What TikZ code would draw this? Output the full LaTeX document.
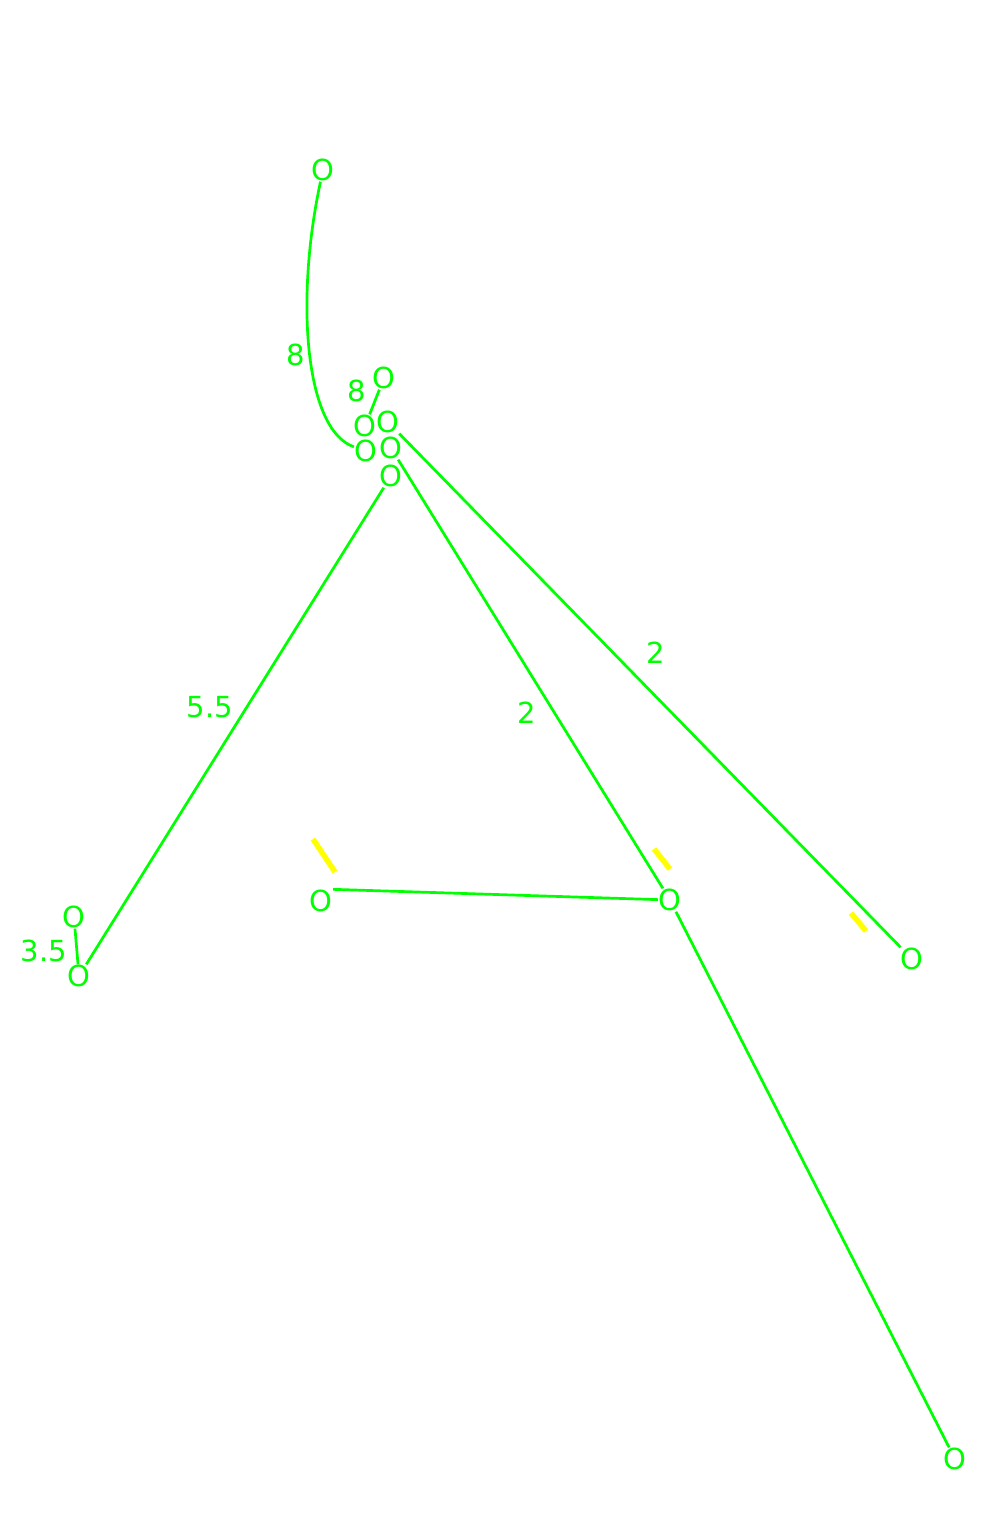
\documentclass[tikz,border=0pt]{standalone}
\usepackage{fontspec}
\setmainfont{DejaVu Sans}
\definecolor{lgreen}{HTML}{00FF00}
\definecolor{lyellow}{HTML}{FFFF00}
\begin{document}
\begin{tikzpicture}[x=1pt,y=-1pt,
  vert/.style={text=lgreen,font=\fontsize{29}{29}\selectfont,inner sep=0.5pt},
  elbl/.style={text=lgreen,font=\fontsize{29}{29}\selectfont,inner sep=0pt},
  edgeline/.style={draw=lgreen,line width=2.7pt},
  ymark/.style={draw=lyellow,line width=5.5pt}]
\useasboundingbox[fill=white] (0,0) rectangle (1000,1514);
\node[vert] (A) at (323,170) {O};
\node[vert] (B) at (384,378) {O};
\node[vert] (C) at (365,426) {O};
\node[vert] (D) at (388,422) {O};
\node[vert] (E) at (366,451) {O};
\node[vert] (F) at (391,448) {O};
\node[vert] (G) at (391,476) {O};
\node[vert] (H) at (74,917) {O};
\node[vert] (I) at (79,976) {O};
\node[vert] (J) at (321,901) {O};
\node[vert] (K) at (670,900) {O};
\node[vert] (L) at (912,959) {O};
\node[vert] (M) at (955,1459) {O};
\draw[edgeline] (A) .. controls (295,300) and (305,430) .. (E);
\draw[edgeline] (B) -- (C);
\draw[edgeline] (D) -- (L);
\draw[edgeline] (F) -- (K);
\draw[edgeline] (K) -- (M);
\draw[edgeline] (G) -- (I);
\draw[edgeline] (H) -- (I);
\draw[edgeline] (J.north east) -- (K);
\node[elbl] (l1) at (296,355) {8};
\node[elbl] (l2) at (357,391) {8};
\node[elbl] (l3) at (656,653) {2};
\node[elbl] (l4) at (527,713) {2};
\node[elbl] (l5) at (210,707) {5.5};
\node[elbl] (l6) at (44,951) {3.5};
\coordinate (y1a) at (313,839); \coordinate (y1b) at (335,872);
\coordinate (y2a) at (654,849); \coordinate (y2b) at (670,869);
\coordinate (y3a) at (851,913); \coordinate (y3b) at (866,931);
\draw[ymark] (y1a) -- (y1b);
\draw[ymark] (y2a) -- (y2b);
\draw[ymark] (y3a) -- (y3b);
\end{tikzpicture}
\end{document}
